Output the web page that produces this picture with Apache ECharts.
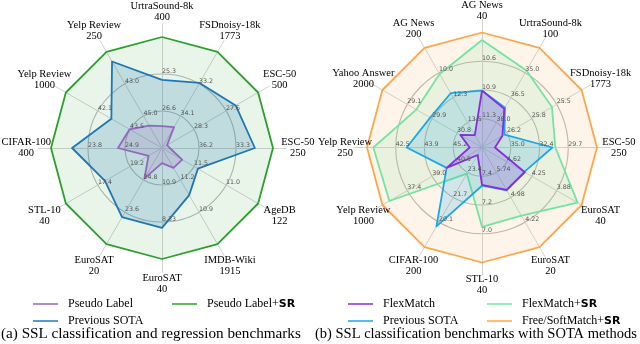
<!DOCTYPE html>
<html>
<head>
<meta charset="utf-8">
<script src="https://cdn.jsdelivr.net/npm/echarts@6/dist/echarts.min.js"></script>
<style>
	html, body { margin: 0; padding: 0; background: #fff; }
	#main { width: 640px; height: 344px; }
</style>
</head>
<body>
<div id="main"></div>
<script>
/* spokes are listed clockwise, starting at the top one */

/* (a) regression + classification */
const axesA = ['UrtraSound-8k\n400', 'FSDnoisy-18k\n1773', 'ESC-50\n500', 'ESC-50\n250', 'AgeDB\n122', 'IMDB-Wiki\n1915',
	'EuroSAT\n40', 'EuroSAT\n20', 'STL-10\n40', 'CIFAR-100\n400', 'Yelp Review\n1000', 'Yelp Review\n250'];
const ticksA1 = ['26.6', '34.1', '28.3', '36.2', '11.5', '11.2', '10.9', '24.8', '19.2', '24.9', '43.5', '45.0'];
const ticksA2 = ['25.3', '33.2', '27.6', '33.3', '11.0', '10.9', '8.33', '23.6', '17.4', '23.8', '42.1', '43.0'];
/* values in ring units (ring 1, ring 2, outer edge = 3) */
const pseudoLabel = [0.59, 0.65, 0.16, 0.21, 0.63, 0.62, 0.41, 0.95, 0.42, 1.19, 1.01, 0.70];
const previousSotaA = [1.84, 2.03, 2.30, 2.51, 1.12, 1.47, 2.16, 2.16, 1.78, 2.43, 1.58, 2.70];
const pseudoLabelSR = [3, 3, 3, 3, 3, 3, 3, 3, 3, 3, 3, 3];

/* (b) classification with SOTA methods */
const axesB = ['AG News\n40', 'UrtraSound-8k\n100', 'FSDnoisy-18k\n1773', 'ESC-50\n250', 'EuroSAT\n40', 'EuroSAT\n20',
	'STL-10\n40', 'CIFAR-100\n200', 'Yelp Review\n1000', 'Yelp Review\n250', 'Yahoo Answer\n2000', 'AG News\n200'];
const ticksB1 = ['11.3', '38.0', '26.2', '35.0', '4.62', '5.74', '7.4', '23.4', '40.5', '45.2', '30.8', '13.5'];
const ticksB2 = ['10.9', '36.5', '25.8', '32.4', '4.25', '4.98', '7.2', '21.7', '39.0', '43.9', '29.9', '12.3'];
const ticksB3 = ['10.6', '35.0', '25.5', '29.7', '3.88', '4.22', '7.0', '20.1', '37.4', '42.5', '29.1', '10.0'];
/* values in ring units (outer edge = 4) */
const flexMatch = [1.98, 1.55, 0.82, 0.45, 1.72, 1.70, 1.30, 0.30, 1.42, 0.43, 0.87, 0.50];
const previousSotaB = [1.98, 1.60, 0.90, 2.45, 1.70, 1.72, 1.33, 3.17, 1.42, 2.62, 2.08, 2.18];
const flexMatchSR = [3.74, 3.09, 2.81, 2.55, 3.84, 2.74, 2.76, 1.05, 3.72, 3.78, 2.64, 2.95];
const freeSoftMatchSR = [4, 4, 4, 4, 4, 4, 4, 4, 4, 4, 4, 4];

const serif = 'Liberation Serif';
/* echarts walks the spokes counter-clockwise */
const ccw = arr => [arr[0]].concat(arr.slice(1).reverse());

const radar = [];
const series = [];
const legend = [];

function addPanel(p) {
	const rings = p.ticks.length + 1;
	const frameIdx = radar.length;
	radar.push({
		center: p.center,
		radius: p.frameRadius,
		startAngle: 90,
		shape: 'circle',
		splitNumber: 1,
		indicator: ccw(p.axes).map(name => ({ name, min: 0, max: 1 })),
		axisName: { show: false },
		axisLine: { lineStyle: { color: '#d2d2d2', width: 1 } },
		splitLine: { show: false },
		splitArea: { show: false }
	});
	const dataIdx = radar.length;
	const ringColors = [];
	for (let i = 0; i < rings; i++) ringColors.push('#b9b9b9');
	ringColors.push('rgba(0,0,0,0)');
	radar.push({
		center: p.center,
		radius: p.radius,
		startAngle: 90,
		shape: 'circle',
		splitNumber: rings,
		indicator: ccw(p.axes).map(name => ({ name, min: 0, max: rings })),
		axisName: { show: false },
		axisLine: { show: false },
		splitLine: { lineStyle: { color: ringColors, width: 1.1 } },
		splitArea: { show: false }
	});
	const textOnly = {
		type: 'radar',
		silent: true,
		symbol: 'circle',
		symbolSize: 1,
		itemStyle: { color: 'rgba(0,0,0,0)', borderWidth: 0 },
		lineStyle: { width: 0, opacity: 0 },
		emphasis: { disabled: true }
	};
	/* spoke names */
	series.push(Object.assign({}, textOnly, {
		radarIndex: frameIdx,
		label: {
			show: true,
			position: 'inside',
			align: 'center',
			verticalAlign: 'middle',
			fontFamily: serif,
			fontSize: 10.5,
			lineHeight: 11,
			color: '#000',
			formatter: q => ccw(p.axes)[q.dimensionIndex]
		},
		data: [{ value: p.axes.map(() => p.nameAt) }]
	}));
	/* ring tick labels */
	series.push(Object.assign({}, textOnly, {
		radarIndex: dataIdx,
		label: {
			show: true,
			position: 'inside',
			align: 'left',
			verticalAlign: 'bottom',
			fontFamily: 'DejaVu Sans',
			fontSize: 6.3,
			color: '#555',
			formatter: q => ccw(p.ticks[q.dataIndex])[q.dimensionIndex]
		},
		data: p.ticks.map((t, k) => ({ value: t.map(() => k + 1) }))
	}));
	p.series.forEach(s => {
		series.push({
			type: 'radar',
			radarIndex: dataIdx,
			name: s.name,
			silent: true,
			symbol: 'none',
			itemStyle: { color: s.color },
			lineStyle: { color: s.color, width: 1.8 },
			areaStyle: { color: s.color, opacity: s.fill },
			data: [{ value: ccw(s.values) }]
		});
		legend.push({
			left: s.legendAt[0],
			top: s.legendAt[1],
			padding: 0,
			icon: 'rect',
			itemWidth: 25,
			itemHeight: 1.5,
			selectedMode: false,
			itemStyle: { borderWidth: 0 },
			data: [{ name: s.name, itemStyle: { color: s.color } }],
			formatter: () => s.label,
			textStyle: {
				fontFamily: serif,
				fontSize: 12,
				color: '#000',
				padding: [0, 0, 0, 5],
				rich: { sr: { fontFamily: 'DejaVu Sans', fontWeight: 'bold', fontSize: 11, color: '#000' } }
			}
		});
	});
}

addPanel({
	center: [162, 148],
	radius: 111,
	frameRadius: 124,
	nameAt: 1.095,
	axes: axesA,
	ticks: [ticksA1, ticksA2],
	series: [
		{ name: 'a-sr', label: 'Pseudo Label+{sr|SR}', values: pseudoLabelSR, color: '#2ca02c', fill: 0.1, legendAt: [172, 298] },
		{ name: 'a-sota', label: 'Previous SOTA', values: previousSotaA, color: '#1f77b4', fill: 0.2, legendAt: [33, 315] },
		{ name: 'a-pl', label: 'Pseudo Label', values: pseudoLabel, color: '#9467bd', fill: 0.2, legendAt: [33, 298] }
	]
});

addPanel({
	center: [482, 147.5],
	radius: 115,
	frameRadius: 128,
	nameAt: 1.07,
	axes: axesB,
	ticks: [ticksB1, ticksB2, ticksB3],
	series: [
		{ name: 'b-free', label: 'Free/SoftMatch+{sr|SR}', values: freeSoftMatchSR, color: '#ffa64a', fill: 0.12, legendAt: [487, 315] },
		{ name: 'b-flexsr', label: 'FlexMatch+{sr|SR}', values: flexMatchSR, color: '#74e4a4', fill: 0.15, legendAt: [487, 298] },
		{ name: 'b-sota', label: 'Previous SOTA', values: previousSotaB, color: '#1ca8e8', fill: 0.2, legendAt: [348, 315] },
		{ name: 'b-flex', label: 'FlexMatch', values: flexMatch, color: '#8a2be2', fill: 0.2, legendAt: [348, 298] }
	]
});

const captionStyle = { fontFamily: serif, fontSize: 14.5, fontWeight: 'normal', color: '#000' };
const chart = echarts.init(document.getElementById('main'));
chart.setOption({
	animation: false,
	backgroundColor: '#fff',
	title: [
		{ text: '(a) SSL classification and regression benchmarks', left: 1, top: 327, padding: 0, textStyle: Object.assign({}, captionStyle, { fontSize: 15.2 }) },
		{ text: '(b) SSL classification benchmarks with SOTA methods', left: 315, top: 327, padding: 0, textStyle: captionStyle }
	],
	legend,
	radar,
	series
});
</script>
</body>
</html>
